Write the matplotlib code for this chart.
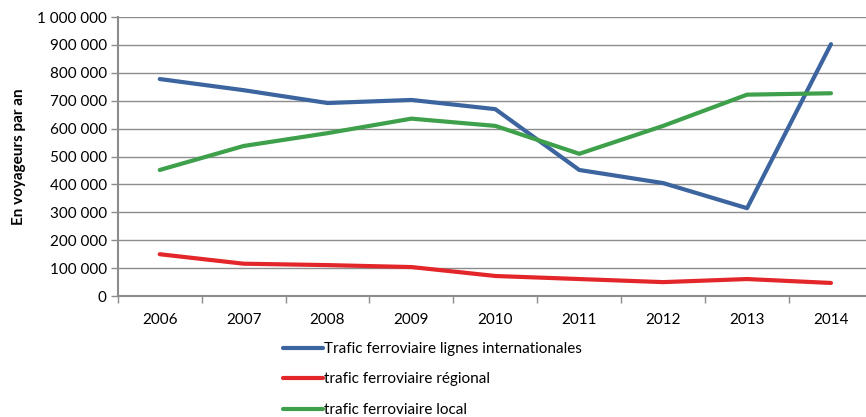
import matplotlib.pyplot as plt
import matplotlib.ticker as mticker
import numpy as np

plt.rcParams['font.family'] = ['Lato', 'DejaVu Sans']

years = ['2006', '2007', '2008', '2009', '2010', '2011', '2012', '2013', '2014']

intl = [778000, 738000, 692000, 703000, 670000, 452000, 405000, 315000, 903000]
regional = [150000, 116000, 111000, 104000, 72000, 61000, 50000, 61000, 47000]
local = [452000, 538000, 584000, 636000, 610000, 510000, 610000, 722000, 727000]

labels = ['Trafic ferroviaire lignes internationales',
          'trafic ferroviaire régional',
          'trafic ferroviaire local']
colors = ['#3C65A0', '#E3262A', '#3EA04A']

fig = plt.figure(figsize=(8.66, 4.17), dpi=100)
# plot area runs a little past the right edge of the image, as in the original
ax = fig.add_axes([0.136, 0.29, 0.872, 0.669])

x = np.arange(len(years))
for vals, lab, col in zip([intl, regional, local], labels, colors):
    ax.plot(x, vals, color=col, linewidth=3, label=lab, solid_capstyle='round')

ax.set_xlim(-0.5, len(years) - 0.5)
ax.set_ylim(0, 1000000)
ax.set_yticks(np.arange(0, 1000001, 100000))
ax.yaxis.set_major_formatter(mticker.FuncFormatter(lambda v, p: f'{int(v):,}'.replace(',', ' ')))

ax.set_xticks(x)
ax.set_xticklabels(years)
ax.set_xticks(np.arange(-0.5, len(years), 1), minor=True)
ax.tick_params(axis='x', which='major', length=0, pad=12, labelsize=11)
ax.tick_params(axis='x', which='minor', length=5, color='#8C8C8C', width=1)
ax.tick_params(axis='y', length=5, color='#8C8C8C', width=1, labelsize=11, pad=3)

ax.grid(axis='y', color='#8C8C8C', linewidth=1)
ax.set_axisbelow(True)
for s in ['top', 'right']:
    ax.spines[s].set_visible(False)
for s in ['left', 'bottom']:
    ax.spines[s].set_color('#8C8C8C')
    ax.spines[s].set_linewidth(1.5)

ax.set_ylabel('En voyageurs par an', fontsize=11, fontweight='bold', labelpad=8)

fig.legend(loc='upper left', bbox_to_anchor=(0.327, 0.18), frameon=False,
           fontsize=11, handlelength=2.6, handletextpad=0.1, labelspacing=1.08,
           borderaxespad=0, borderpad=0)

plt.savefig('out.png', dpi=100)
